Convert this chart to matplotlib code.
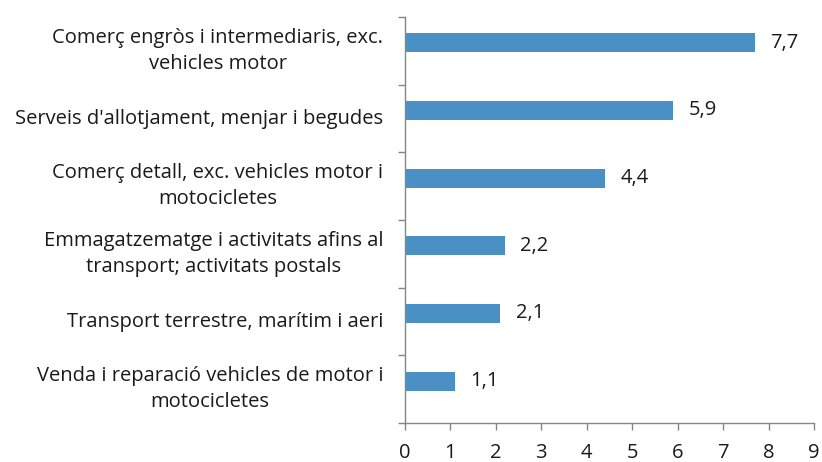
import matplotlib
matplotlib.use("Agg")
import matplotlib.pyplot as plt
from matplotlib.transforms import offset_copy

categories = [
    "Comerç engròs i intermediaris, exc.\nvehicles motor",
    "Serveis d'allotjament, menjar i begudes",
    "Comerç detall, exc. vehicles motor i\nmotocicletes",
    "Emmagatzematge i activitats afins al\ntransport; activitats postals",
    "Transport terrestre, marítim i aeri",
    "Venda i reparació vehicles de motor i\nmotocicletes",
]
values = [7.7, 5.9, 4.4, 2.2, 2.1, 1.1]
xticks = [0, 1, 2, 3, 4, 5, 6, 7, 8, 9]

plt.rcParams['font.family'] = ['Open Sans', 'DejaVu Sans']
fs = 14.5
axis_col = '#868686'
text_col = '#1a1a1a'

fig = plt.figure(figsize=(8.22, 4.62), dpi=100)
ax = fig.add_axes([405/822, 1-423/462, 409/822, 406/462])

n = len(categories)
ypos = list(range(n))[::-1]
bar_off = 0.12
ax.barh([y + bar_off for y in ypos], values, height=0.28, color='#4A90C4', zorder=2)
ax.set_ylim(-0.5, n-0.5)
ax.set_xlim(0, 9)
ax.set_xticks(xticks)
ax.set_xticklabels([str(t) for t in xticks], fontsize=fs, color=text_col)

# y ticks at band boundaries
ax.set_yticks([i - 0.5 for i in range(n+1)])
ax.set_yticklabels([])
ax.tick_params(axis='y', direction='out', length=5, color=axis_col, width=1)
ax.tick_params(axis='x', direction='out', length=5, color=axis_col, width=1, pad=9.5)

for s in ['top', 'right']:
    ax.spines[s].set_visible(False)
for s in ['left', 'bottom']:
    ax.spines[s].set_color(axis_col)
    ax.spines[s].set_linewidth(1)

lab_tr = offset_copy(ax.get_yaxis_transform(), fig=fig, x=-22, y=0, units='dots')
for y, lab in zip(ypos, categories):
    ax.text(0, y, lab, ha='right', va='center', fontsize=fs, color=text_col,
            multialignment='center', transform=lab_tr, linespacing=1.38)

for y, v in zip(ypos, values):
    ax.annotate(f"{v:.1f}".replace('.', ','), (v, y + bar_off), xytext=(11, 0), textcoords='offset points',
                ha='left', va='center', fontsize=fs, color=text_col)

fig.savefig('out.png', dpi=100)
